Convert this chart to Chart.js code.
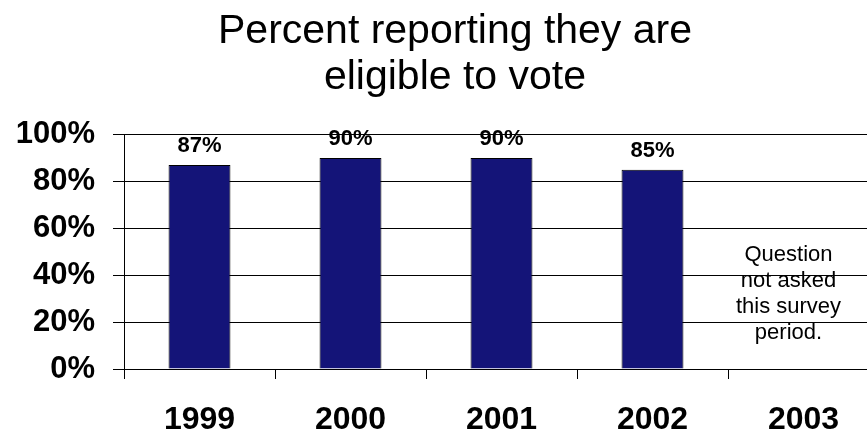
<!DOCTYPE html>
<html>
<head>
<meta charset="utf-8">
<script src="https://cdn.jsdelivr.net/npm/chart.js@4"></script>
<style>
  html, body { margin: 0; padding: 0; background: #fff; overflow: hidden; }
</style>
</head>
<body>
<canvas id="eligibleChart" width="910" height="437"></canvas>
<script>
// values
const years = ['1999', '2000', '2001', '2002', '2003'];
const eligiblePct = [87, 90, 90, 85, null];
const yTicks = [0, 20, 40, 60, 80, 100];
const titleLines = ['Percent reporting they are', 'eligible to vote'];
const noteLines = ['Question', 'not asked', 'this survey', 'period.'];
const noteCategory = 4;   // 2003
const noteValue = 46;     // where the note starts, in % on the y axis

// labels above bars + the "not asked" note
const barLabels = {
    id: 'barLabels',
    afterDatasetsDraw(chart) {
        const ctx = chart.ctx;
        const meta = chart.getDatasetMeta(0);
        ctx.save();
        ctx.fillStyle = '#000';
        ctx.textAlign = 'center';
        ctx.textBaseline = 'alphabetic';
        ctx.font = 'bold 22px "Liberation Sans", Arial, sans-serif';
        meta.data.forEach(function(bar, i) {
            if (eligiblePct[i] == null) return;
            ctx.fillText(eligiblePct[i] + '%', bar.x, bar.y - 13);
        });

        const x = chart.scales.x.getPixelForValue(noteCategory) - 15;
        let y = chart.scales.y.getPixelForValue(noteValue);
        ctx.font = '22px "Liberation Sans", Arial, sans-serif';
        noteLines.forEach(function(line) {
            ctx.fillText(line, x, y);
            y += 26;
        });
        ctx.restore();
    }
};

const ctx = document.getElementById('eligibleChart').getContext('2d');
new Chart(ctx, {
    type: 'bar',
    data: {
        labels: years,
        datasets: [{
            data: eligiblePct,
            backgroundColor: '#141478',
            borderColor: '#000',
            borderWidth: 1,
            barPercentage: 0.41,
            categoryPercentage: 1
        }]
    },
    options: {
        responsive: false,
        animation: false,
        // plot runs past the right edge of the window, like the original
        layout: { padding: 0 },
        plugins: {
            legend: { display: false },
            tooltip: { enabled: false },
            title: {
                display: true,
                text: titleLines,
                color: '#000',
                font: { family: '"Liberation Sans", Arial, sans-serif', size: 41, weight: 'normal', lineHeight: 1.14 },
                padding: { top: 8, bottom: 33 }
            }
        },
        scales: {
            x: {
                grid: { drawOnChartArea: false, offset: true, tickLength: 10, color: '#000' },
                border: { display: true, color: '#000' },
                ticks: {
                    color: '#000',
                    padding: 22,
                    font: { family: '"Liberation Sans", Arial, sans-serif', size: 32, weight: 'bold' }
                },
                afterFit: function(s) { s.height = 68; }
            },
            y: {
                min: 0,
                max: 100,
                afterBuildTicks: function(s) { s.ticks = yTicks.map(v => ({ value: v })); },
                grid: { tickLength: 11, color: '#000' },
                border: { display: true, color: '#000' },
                ticks: {
                    color: '#000',
                    padding: 18,
                    font: { family: '"Liberation Sans", Arial, sans-serif', size: 31, weight: 'bold' },
                    callback: v => v + '%'
                },
                afterFit: function(s) { s.width = 124; }
            },
            // empty spacer on the right so the title centres like the original
            spacer: {
                type: 'linear',
                position: 'right',
                grid: { display: false },
                border: { display: false },
                ticks: { display: false },
                afterFit: function(s) { s.width = 31; }
            }
        }
    },
    plugins: [barLabels]
});
</script>
</body>
</html>
